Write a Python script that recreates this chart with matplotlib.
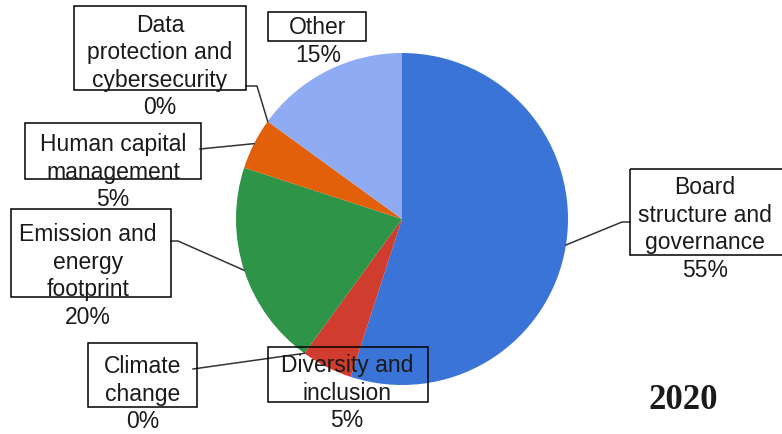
import numpy as np
import matplotlib
matplotlib.use("Agg")
import matplotlib.pyplot as plt
from matplotlib.patches import Rectangle

# share of topics, clockwise from 12 o'clock
topics = ["Board\nstructure and\ngovernance", "Diversity and\ninclusion", "Climate\nchange",
          "Emission and\nenergy\nfootprint", "Human capital\nmanagement",
          "Data\nprotection and\ncybersecurity", "Other"]
shares = [55, 5, 0, 20, 5, 0, 15]
colors = ["#3a74d7", "#d03c2d", "#d03c2d", "#2e9447", "#e3600a", "#e3600a", "#8fabf4"]
year = "2020"

# label boxes (left, top, right, bottom) and text centre x, in pixels
boxes = [(630, 170, 790, 256), (268, 348, 428, 403), (88, 344, 197, 408),
         (11, 210, 171, 298), (25, 124, 201, 180), (74, 7, 246, 91), (268, 13, 366, 42)]
text_x = [705, 347, 143, 88, 113, 160, 318]
text_top = [188, 366, 367, 235, 145, 25, 28]
# elbow of leader line (None = no line)
elbows = [[(622, 223), (630, 223)], None, [(193, 370)], [(178, 242), (171, 242)],
          [(200, 150)], [(257, 87), (246, 87)], None]
# which wedge angle the line leaves from: "mid", "start" or "end"
anchor = ["mid", None, "end", "mid", "mid", "end", None]

W, H = 782, 435
cx, cy, r = 402, 220, 166

fig = plt.figure(figsize=(W / 100, H / 100), dpi=100)
ax = fig.add_axes([0, 0, 1, 1])
ax.pie(shares, colors=colors, startangle=-90, counterclock=True,
       center=(cx, cy), radius=r, wedgeprops=dict(linewidth=0))
ax.set_xlim(0, W)
ax.set_ylim(H, 0)
ax.set_aspect("equal")
ax.axis("off")

# screen angles of wedge edges (clockwise from top)
cum = np.cumsum([0] + shares)
for i, name in enumerate(topics):
    a0 = 90 - cum[i] * 3.6
    a1 = 90 - cum[i + 1] * 3.6
    if elbows[i] is not None:
        a = {"mid": (a0 + a1) / 2, "start": a0, "end": a1}[anchor[i]]
        px = cx + r * np.cos(np.radians(a))
        py = cy - r * np.sin(np.radians(a))
        pts = [(px, py)] + elbows[i]
        ax.plot([p[0] for p in pts], [p[1] for p in pts], color="#333333", lw=1.1, zorder=3)

    l, t, rr, b = boxes[i]
    ax.add_patch(Rectangle((l, t), rr - l, b - t, fill=False, edgecolor="black",
                           lw=1.1, zorder=4, clip_on=False))
    lines = name.split("\n") + [f"{shares[i]}%"]
    for k, ln in enumerate(lines):
        ax.text(text_x[i], text_top[i] + k * 27.5, ln, ha="center", va="center",
                fontsize=16.5, family="Liberation Sans", color="#1a1a1a", zorder=5)

ax.text(683, 401, year, ha="center", va="center", fontsize=25, fontweight="bold",
        family="Liberation Serif", color="#1a1a1a")

fig.savefig("out.png", dpi=100, facecolor="white")
